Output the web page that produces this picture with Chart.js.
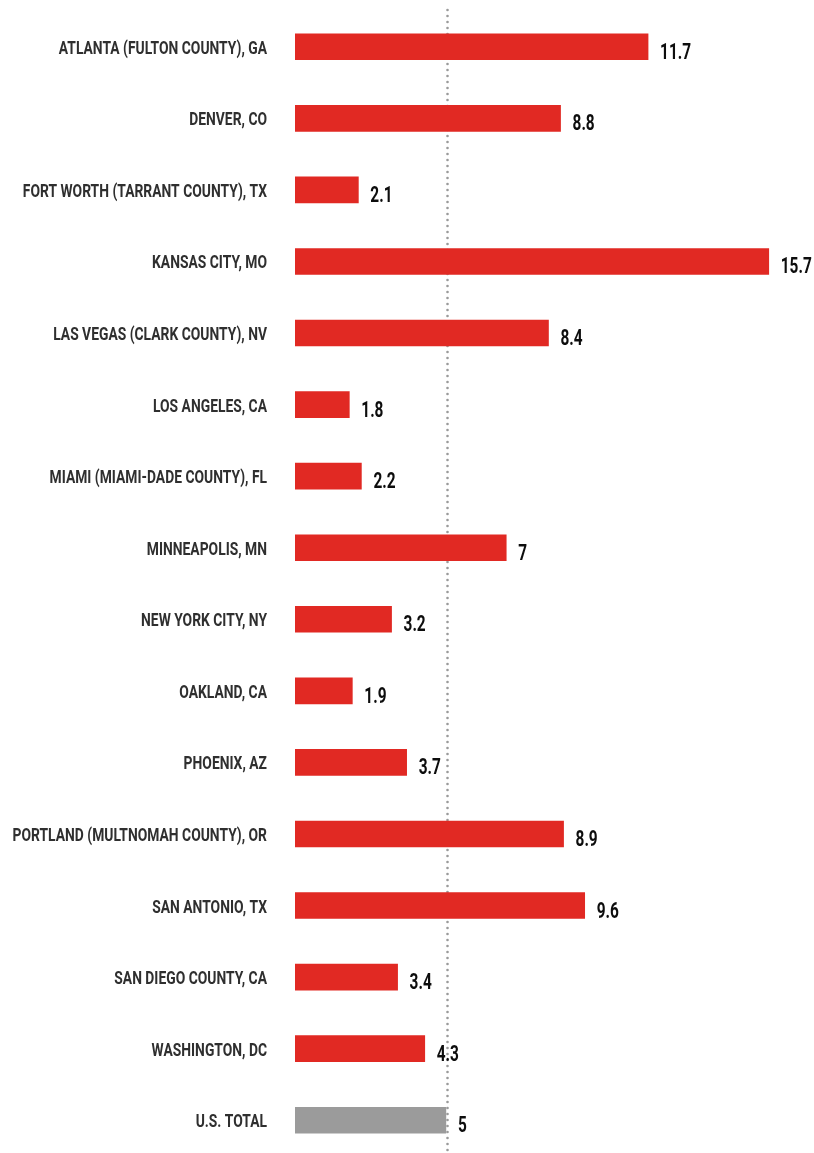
<!DOCTYPE html>
<html>
<head>
<meta charset="utf-8">
<script src="https://cdn.jsdelivr.net/npm/chart.js@4"></script>
<style>
    html, body { margin: 0; padding: 0; background: #fff; overflow: hidden; }
    #wrap { width: 814px; height: 1153px; overflow: hidden; }
</style>
</head>
<body>
<div id="wrap"><canvas id="chart" width="814" height="1156"></canvas></div>
<script>
const places = [
    'ATLANTA (FULTON COUNTY), GA',
    'DENVER, CO',
    'FORT WORTH (TARRANT COUNTY), TX',
    'KANSAS CITY, MO',
    'LAS VEGAS (CLARK COUNTY), NV',
    'LOS ANGELES, CA',
    'MIAMI (MIAMI-DADE COUNTY), FL',
    'MINNEAPOLIS, MN',
    'NEW YORK CITY, NY',
    'OAKLAND, CA',
    'PHOENIX, AZ',
    'PORTLAND (MULTNOMAH COUNTY), OR',
    'SAN ANTONIO, TX',
    'SAN DIEGO COUNTY, CA',
    'WASHINGTON, DC',
    'U.S. TOTAL'
];
const rates = [11.7, 8.8, 2.1, 15.7, 8.4, 1.8, 2.2, 7, 3.2, 1.9, 3.7, 8.9, 9.6, 3.4, 4.3, 5];
const referenceRate = 5;
const totalLabel = 'U.S. TOTAL';

const RED = '#e12923';
const GREY = '#9b9b9b';

// condensed look: draw with a regular face and squeeze horizontally
const LABEL_FONT = 'bold 18px Roboto, "Liberation Sans", sans-serif';
const LABEL_SQUEEZE = 0.77;
const VALUE_FONT = 'bold 22px Roboto, "Liberation Sans", sans-serif';
const VALUE_SQUEEZE = 0.7;

const referenceLine = {
    id: 'referenceLine',
    beforeDatasetsDraw(chart) {
        const { ctx, scales: { x } } = chart;
        const px = Math.round(x.getPixelForValue(referenceRate)) + 1.5;
        ctx.save();
        ctx.fillStyle = '#9a9a9a';
        for (let y = 10; y < 1153; y += 6) {
            ctx.beginPath();
            ctx.arc(px, y, 1.3, 0, Math.PI * 2);
            ctx.fill();
        }
        ctx.restore();
    }
};

const barLabels = {
    id: 'barLabels',
    afterDatasetsDraw(chart) {
        const { ctx, scales: { x, y } } = chart;
        ctx.save();
        places.forEach((name, i) => {
            const cy = y.getPixelForValue(i);

            // category name, right aligned left of the bars
            ctx.save();
            ctx.translate(267, cy + 7);
            ctx.scale(LABEL_SQUEEZE, 1);
            ctx.font = LABEL_FONT;
            ctx.fillStyle = '#2f2f2f';
            ctx.textAlign = 'right';
            ctx.textBaseline = 'alphabetic';
            ctx.fillText(name, 0, 0);
            ctx.restore();

            // value at the end of the bar
            ctx.save();
            ctx.translate(x.getPixelForValue(rates[i]) + 12, cy + 12);
            ctx.scale(VALUE_SQUEEZE, 1);
            ctx.font = VALUE_FONT;
            ctx.fillStyle = '#0d0d0d';
            ctx.textAlign = 'left';
            ctx.textBaseline = 'alphabetic';
            ctx.fillText(String(rates[i]), 0, 0);
            ctx.restore();
        });
        ctx.restore();
    }
};

new Chart(document.getElementById('chart'), {
    type: 'bar',
    data: {
        labels: places,
        datasets: [{
            data: rates,
            backgroundColor: places.map(p => p === totalLabel ? GREY : RED),
            borderWidth: 0,
            barThickness: 26
        }]
    },
    options: {
        indexAxis: 'y',
        responsive: false,
        animation: false,
        devicePixelRatio: 1,
        layout: {
            padding: { left: 295, right: 6, top: 11, bottom: 0 }
        },
        plugins: {
            legend: { display: false },
            tooltip: { enabled: false }
        },
        scales: {
            x: { display: false, min: 0, max: 17 },
            y: { display: false }
        }
    },
    plugins: [referenceLine, barLabels]
});
</script>
</body>
</html>
